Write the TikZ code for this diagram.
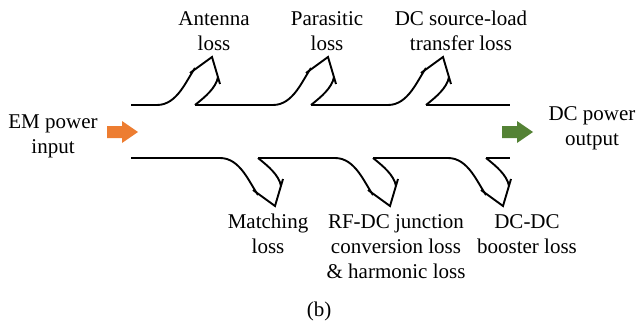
\documentclass[tikz,border=0pt]{standalone}
\usepackage{fontspec}
\setmainfont{Liberation Serif}
\definecolor{inorange}{HTML}{ED7D31}
\definecolor{outgreen}{HTML}{548235}
\begin{document}
\begin{tikzpicture}[x=1pt,y=-1pt,
  flow/.style={line width=1.9pt,line join=miter},
  lbl/.style={inner sep=0pt,align=center,anchor=base,font=\fontsize{21}{25}\selectfont},
  lossarrow/.pic={
    \draw[flow] (0,0) .. controls (20,0) and (29,-24) .. (38,-37);
    \draw[flow] (38,0) .. controls (48,-8) and (59,-17) .. (61,-28);
    \draw[flow] (33,-32) -- (55,-48) -- (63,-21);
  }]
\useasboundingbox (0,0) rectangle (637,329);
% main channel
\draw[flow] (131,105) -- (157,105);
\draw[flow] (195,105) -- (273,105);
\draw[flow] (311,105) -- (388,105);
\draw[flow] (426,105) -- (510,105);
\draw[flow] (131,158) -- (220,158);
\draw[flow] (258,158) -- (335,158);
\draw[flow] (373,158) -- (448,158);
\draw[flow] (486,158) -- (510,158);
% loss branches
\pic at (157,105) {lossarrow};
\pic at (273,105) {lossarrow};
\pic at (388,105) {lossarrow};
\pic[yscale=-1] at (220,158) {lossarrow};
\pic[yscale=-1] at (335,158) {lossarrow};
\pic[yscale=-1] at (448,158) {lossarrow};
% block arrows
\fill[inorange] (107,126) -- (122,126) -- (122,121) -- (138,132) -- (122,143) -- (122,138) -- (107,138) -- cycle;
\fill[outgreen] (502,126) -- (517,126) -- (517,121) -- (533,132) -- (517,143) -- (517,138) -- (502,138) -- cycle;
% labels (anchor base = baseline of the last line)
\node[lbl] (ant) at (214,51) {Antenna\\loss};
\node[lbl] (par) at (327,51) {Parasitic\\loss};
\node[lbl] (dcs) at (461,51) {DC source-load\\transfer loss};
\node[lbl] (mat) at (268,253) {Matching\\loss};
\node[lbl] (rfdc) at (396,278) {RF-DC junction\\conversion loss\\\& harmonic loss};
\node[lbl] (boost) at (527,253) {DC-DC\\booster loss};
\node[lbl] (emin) at (53,153) {EM power\\input};
\node[lbl] (dcout) at (592,145) {DC power\\output};
\node[lbl] (cap) at (319,316) {(b)};
\end{tikzpicture}
\end{document}
